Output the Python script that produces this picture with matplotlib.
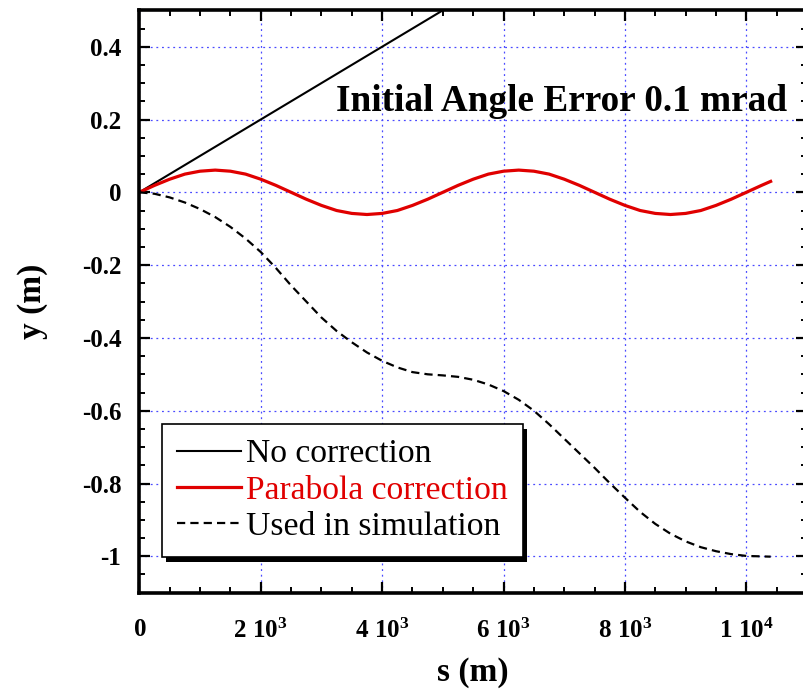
import matplotlib
matplotlib.use('Agg')
import matplotlib.pyplot as plt
from matplotlib.ticker import MultipleLocator
from matplotlib.patches import Rectangle

plt.rcParams['font.family'] = ['Liberation Serif', 'DejaVu Serif']
plt.rcParams['mathtext.fontset'] = 'custom'
plt.rcParams['mathtext.rm'] = 'Liberation Serif:bold'
plt.rcParams['mathtext.it'] = 'Liberation Serif:bold'
plt.rcParams['mathtext.bf'] = 'Liberation Serif:bold'

# no correction: straight line from the initial angle error
s_nocorr = [0, 5000]
y_nocorr = [0, 0.5]

# parabola correction
s_para = [0, 250, 500, 750, 1000, 1250, 1500, 1750, 2000, 2250, 2500,
          2750, 3000, 3250, 3500, 3750, 4000, 4250, 4500, 4750, 5000,
          5250, 5500, 5750, 6000, 6250, 6500, 6750, 7000, 7250, 7500,
          7750, 8000, 8250, 8500, 8750, 9000, 9250, 9500, 9750, 10000,
          10250, 10400]
y_para = [0, 0.019, 0.036, 0.050, 0.058, 0.061, 0.058, 0.050, 0.036, 0.019, 0,
          -0.019, -0.036, -0.050, -0.058, -0.061, -0.058, -0.050, -0.036, -0.019, 0,
          0.019, 0.036, 0.050, 0.058, 0.061, 0.058, 0.050, 0.036, 0.019, 0,
          -0.019, -0.036, -0.050, -0.058, -0.061, -0.058, -0.050, -0.036, -0.019, 0,
          0.019, 0.030]

# orbit used in simulation
s_sim = [0, 250, 500, 750, 1000, 1250, 1500, 1750, 2000, 2250, 2500, 2750,
         3000, 3250, 3500, 3750, 4000, 4250, 4500, 4750, 5000, 5250, 5500,
         5750, 6000, 6250, 6500, 6750, 7000, 7250, 7500, 7750, 8000, 8250,
         8500, 8750, 9000, 9250, 9500, 9750, 10000, 10200, 10400]
y_sim = [0, -0.004, -0.014, -0.028, -0.046, -0.068, -0.095, -0.127, -0.164,
         -0.208, -0.256, -0.300, -0.344, -0.381, -0.412, -0.440, -0.463,
         -0.481, -0.494, -0.500, -0.503, -0.507, -0.515, -0.528, -0.546,
         -0.570, -0.600, -0.637, -0.677, -0.717, -0.757, -0.799, -0.839,
         -0.878, -0.911, -0.938, -0.959, -0.975, -0.986, -0.994, -0.999,
         -1.000, -1.001]

legend_labels = ['No correction', 'Parabola correction', 'Used in simulation']
title_text = 'Initial Angle Error 0.1 mrad'

xticks = [0, 2000, 4000, 6000, 8000, 10000]
xtick_labels = ['$0$', r'$2\ 10^{3}$', r'$4\ 10^{3}$', r'$6\ 10^{3}$',
                r'$8\ 10^{3}$', r'$1\ 10^{4}$']
yticks = [-1, -0.8, -0.6, -0.4, -0.2, 0, 0.2, 0.4]
ytick_labels = ['-1', '-0.8', '-0.6', '-0.4', '-0.2', '0', '0.2', '0.4']

red = '#e00000'

fig = plt.figure(figsize=(8.04, 6.92), dpi=100)
ax = fig.add_axes([0.1733, 0.1435, 0.8305, 0.8416])

ax.plot(s_nocorr, y_nocorr, color='black', lw=1.5, label=legend_labels[0])
ax.plot(s_para, y_para, color=red, lw=2.3, label=legend_labels[1])
ax.plot(s_sim, y_sim, color='black', lw=1.6, linestyle=(0, (3.7, 2.3)),
        label=legend_labels[2])

ax.set_xlim(0, 11000)
ax.set_ylim(-1.1, 0.5)
ax.set_xticks(xticks)
ax.set_xticklabels(xtick_labels)
ax.set_yticks(yticks)
ax.set_yticklabels(ytick_labels)
ax.xaxis.set_minor_locator(MultipleLocator(500))
ax.yaxis.set_minor_locator(MultipleLocator(0.05))

ax.tick_params(which='both', direction='in', top=True, right=True)
ax.tick_params(which='major', length=8, width=1.6, labelsize=18)
ax.tick_params(axis='x', which='major', pad=19)
ax.tick_params(axis='y', which='major', pad=13)
ax.tick_params(which='minor', length=4.5, width=1.4)
for lab in ax.get_yticklabels():
    lab.set_fontweight('bold')
for sp in ax.spines.values():
    sp.set_linewidth(2.6)

ax.grid(True, which='major', color='#4a4aff', lw=0.9, linestyle=(0, (1.5, 3)))
ax.set_axisbelow(True)

ax.set_xlabel('s (m)', fontsize=24, fontweight='bold', labelpad=10)
ax.set_ylabel('y (m)', fontsize=24, fontweight='bold', labelpad=24)

ax.text(0.970, 0.8265, title_text, transform=ax.transAxes, ha='right',
        va='baseline', fontsize=26.8, fontweight='bold')

leg = ax.legend(loc='upper left', bbox_to_anchor=(0.034, 0.29), fontsize=24.2,
                frameon=True, fancybox=False, shadow=False,
                handlelength=1.9, handletextpad=0.15, labelspacing=0.17,
                borderpad=0.45, borderaxespad=0,
                labelcolor=['black', red, 'black'])
leg.get_frame().set_edgecolor('black')
leg.get_frame().set_linewidth(1.2)
leg.get_frame().set_alpha(1)
leg.set_zorder(6)

# heavy drop shadow behind the legend box
fig.canvas.draw()
bb = leg.get_window_extent()
shadow = Rectangle((bb.x0 + 4, bb.y0 - 5), bb.width, bb.height, transform=None,
                   facecolor='black', edgecolor='none', zorder=5.5, clip_on=False)
ax.add_patch(shadow)

fig.savefig('out.png', dpi=100)
